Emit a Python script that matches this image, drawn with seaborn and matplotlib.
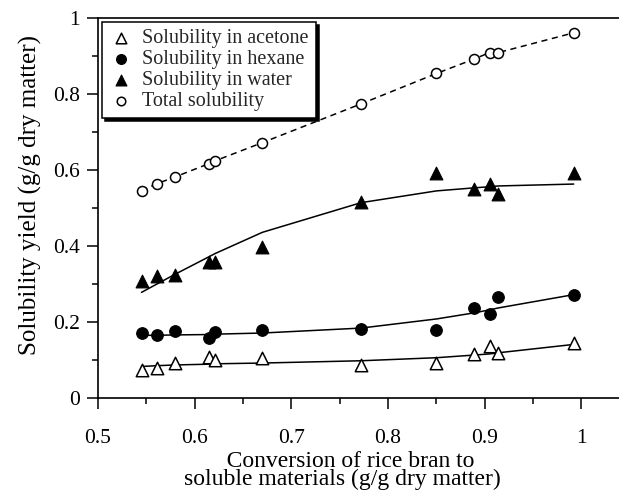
import matplotlib
matplotlib.use("Agg")
import matplotlib.pyplot as plt
from matplotlib.ticker import MultipleLocator, FuncFormatter
import seaborn as sns
import pandas as pd

# Conversion of rice bran to soluble materials (g/g dry matter)
conversion = [0.545, 0.561, 0.580, 0.615, 0.621, 0.670, 0.772, 0.850, 0.889, 0.905, 0.914, 0.992]

# Measured solubility yields (g/g dry matter)
acetone = [0.073, 0.079, 0.091, 0.108, 0.101, 0.104, 0.088, 0.093, 0.115, 0.137, 0.119, 0.144]
hexane = [0.171, 0.167, 0.176, 0.158, 0.173, 0.179, 0.182, 0.178, 0.238, 0.221, 0.266, 0.270]
water = [0.308, 0.321, 0.323, 0.359, 0.359, 0.397, 0.516, 0.592, 0.551, 0.562, 0.537, 0.591]
total = [0.546, 0.564, 0.582, 0.617, 0.624, 0.672, 0.774, 0.854, 0.892, 0.909, 0.909, 0.961]

# Fitted curves
acetone_fit = [0.083, 0.085, 0.087, 0.089, 0.090, 0.092, 0.098, 0.106, 0.113, 0.116, 0.119, 0.141]
hexane_fit = [0.165, 0.165, 0.166, 0.167, 0.168, 0.171, 0.184, 0.208, 0.224, 0.232, 0.237, 0.272]
water_fit = [0.278, 0.300, 0.326, 0.372, 0.380, 0.436, 0.514, 0.545, 0.553, 0.556, 0.558, 0.563]

labels = ["Solubility in acetone", "Solubility in hexane", "Solubility in water", "Total solubility"]

sns.set_style("ticks")
plt.rcParams["font.family"] = ["Liberation Serif", "DejaVu Serif"]

df = pd.DataFrame({
    "x": conversion,
    "acetone": acetone, "hexane": hexane, "water": water, "total": total,
    "acetone_fit": acetone_fit, "hexane_fit": hexane_fit, "water_fit": water_fit,
})

fig = plt.figure(figsize=(6.19, 4.92), dpi=100)
ax = fig.add_axes([98 / 619, 94 / 492, 521 / 619, 380 / 492])

# fitted lines
for col in ["acetone_fit", "hexane_fit", "water_fit"]:
    sns.lineplot(data=df, x="x", y=col, ax=ax, color="black", lw=1.1,
                 estimator=None, sort=False, legend=False)
sns.lineplot(data=df, x="x", y="total", ax=ax, color="black", lw=1.1,
             linestyle=(0, (4, 3)), estimator=None, sort=False, legend=False)

# measured points
sns.scatterplot(data=df, x="x", y="acetone", ax=ax, marker="^", s=80,
                facecolor="white", edgecolor="black", linewidth=1.1,
                label=labels[0], zorder=3)
sns.scatterplot(data=df, x="x", y="hexane", ax=ax, marker="o", s=70,
                color="black", edgecolor="black", linewidth=0.8,
                label=labels[1], zorder=3)
sns.scatterplot(data=df, x="x", y="water", ax=ax, marker="^", s=85,
                color="black", edgecolor="black", linewidth=0.8,
                label=labels[2], zorder=3)
sns.scatterplot(data=df, x="x", y="total", ax=ax, marker="o", s=52,
                facecolor="white", edgecolor="black", linewidth=1.1,
                label=labels[3], zorder=3)

ax.set_xlim(0.5, 0.5 + 520.5 / 966)
ax.set_ylim(0, 1)
ax.xaxis.set_major_locator(MultipleLocator(0.1))
ax.xaxis.set_minor_locator(MultipleLocator(0.05))
ax.yaxis.set_major_locator(MultipleLocator(0.2))
ax.yaxis.set_minor_locator(MultipleLocator(0.1))
fmt = FuncFormatter(lambda v, p: ("%g" % round(v, 2)))
ax.xaxis.set_major_formatter(fmt)
ax.yaxis.set_major_formatter(fmt)

ax.tick_params(which="major", direction="out", length=8, width=1.1,
               labelsize=15.5, color="black", labelcolor="black")
ax.tick_params(which="minor", direction="out", length=4.5, width=1.1, color="black")
ax.tick_params(axis="x", which="major", pad=14)
ax.tick_params(axis="y", which="major", pad=5)

for side in ["left", "bottom", "top"]:
    ax.spines[side].set_visible(True)
    ax.spines[side].set_color("black")
    ax.spines[side].set_linewidth(1.2)
ax.spines["right"].set_visible(False)

ax.set_xlabel("   Conversion of rice bran to\nsoluble materials (g/g dry matter)",
              fontsize=17, color="black", linespacing=0.82)
ax.xaxis.set_label_coords((342 - 98) / 521, -0.14, transform=ax.transAxes)
ax.xaxis.label.set_va("top")
ax.set_ylabel("Solubility yield (g/g dry matter)", fontsize=18, color="black")
ax.yaxis.set_label_coords(-0.108, 0.535, transform=ax.transAxes)

leg = ax.legend(loc="upper left", bbox_to_anchor=(0.008, 0.99), borderaxespad=0,
                fontsize=14.5, frameon=True, fancybox=False, framealpha=1,
                edgecolor="black", shadow={"color": "black", "alpha": 1},
                handletextpad=0.45, labelspacing=0.1, borderpad=0.35,
                handlelength=1.2, markerscale=0.85)
leg.get_frame().set_linewidth(1.1)

fig.savefig("out.png", dpi=100)
